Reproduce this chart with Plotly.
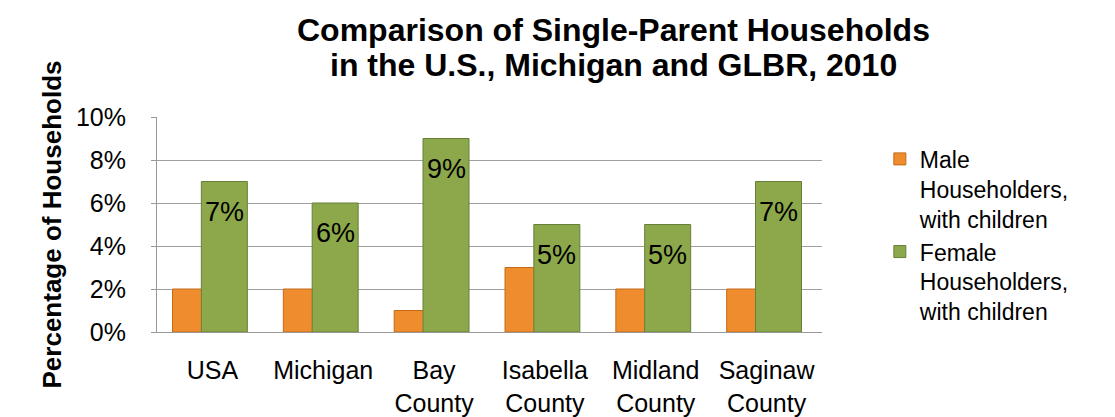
import plotly.graph_objects as go

categories = ["USA", "Michigan", "Bay<br>County", "Isabella<br>County", "Midland<br>County", "Saginaw<br>County"]
male = [2, 2, 1, 3, 2, 2]
female = [7, 6, 9, 5, 5, 7]
y_ticks = [0, 2, 4, 6, 8, 10]
y_tick_labels = ["0%", "2%", "4%", "6%", "8%", "10%"]
male_name = "Male<br>Householders,<br>with children"
female_name = "Female<br>Householders,<br>with children"
title_lines = ["Comparison of Single-Parent Households", "in the U.S., Michigan and GLBR, 2010"]

FONT = "Liberation Sans, Arial, Helvetica, sans-serif"

fig = go.Figure()
fig.add_trace(go.Bar(
    x=categories, y=male, name=male_name,
    width=0.415, offset=-0.36,
    marker=dict(color="#EF8D2E", line=dict(color="#C46A18", width=1)),
))
fig.add_trace(go.Bar(
    x=categories, y=female, name=female_name,
    width=0.415, offset=-0.10,
    marker=dict(color="#8CA84A", line=dict(color="#65803A", width=1)),
))

for i, v in enumerate(female):
    fig.add_annotation(x=i + 0.1075, y=v, xref="x", yref="y", text=f"{v}%",
                       showarrow=False, yshift=-30,
                       font=dict(family=FONT, size=27, color="black"))

for line, ypos in zip(title_lines, [1.405, 1.242]):
    fig.add_annotation(x=0.686, y=ypos, xref="paper", yref="paper", text=f"<b>{line}</b>",
                       showarrow=False, xanchor="center", yanchor="middle",
                       font=dict(family=FONT, size=32, color="black"))

fig.update_layout(
    width=1115, height=417,
    margin=dict(l=149, r=301, t=109, b=93, autoexpand=False),
    paper_bgcolor="white", plot_bgcolor="white",
    barmode="overlay",
    font=dict(family=FONT, size=25, color="black"),
    showlegend=True,
    legend=dict(x=1.087, xanchor="left", y=0.905, yanchor="top",
                font=dict(family=FONT, size=23, color="black"),
                tracegroupgap=0, itemwidth=30, traceorder="normal",
                valign="top", bgcolor="rgba(0,0,0,0)"),
    xaxis=dict(
        type="category", showgrid=False, showline=True, linecolor="#999999", linewidth=1,
        ticks="", tickfont=dict(family=FONT, size=25, color="black"),
        ticklabelstandoff=16, range=[-0.5, 5.5], automargin=False,
    ),
    yaxis=dict(
        range=[0, 10], tickvals=y_ticks, ticktext=y_tick_labels,
        showgrid=True, gridcolor="#A0A0A0", gridwidth=1,
        showline=True, linecolor="#999999", linewidth=1,
        ticks="outside", ticklen=5, tickcolor="#999999",
        tickfont=dict(family=FONT, size=25, color="black"),
        ticklabelstandoff=20, automargin=False,
        title=dict(text="<b>Percentage of Households</b>", standoff=6,
                   font=dict(family=FONT, size=26, color="black")),
        zeroline=False,
    ),
)

fig.write_html("out.html")
